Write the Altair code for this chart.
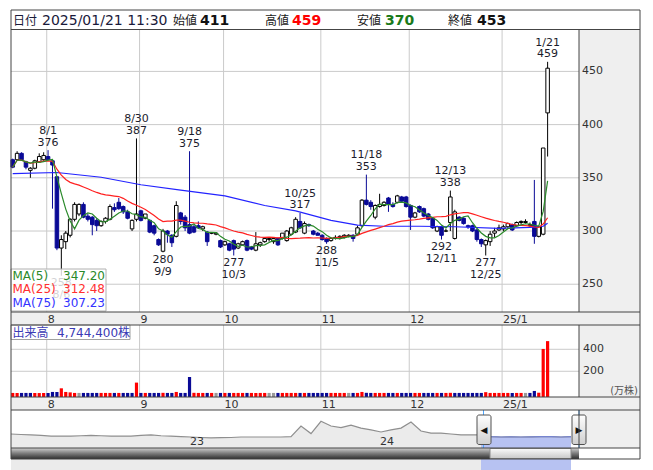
import altair as alt
import numpy as np
import pandas as pd

# ---- daily candles (yen) ----
dates = ["7/22", "7/23", "7/24", "7/25", "7/26", "7/29", "7/30", "7/31",
         "8/1", "8/2", "8/5", "8/6", "8/7", "8/8", "8/9", "8/13", "8/14", "8/15", "8/16", "8/19",
         "8/20", "8/21", "8/22", "8/23", "8/26", "8/27", "8/28", "8/29", "8/30",
         "9/2", "9/3", "9/4", "9/5", "9/6", "9/9", "9/10", "9/11", "9/12", "9/13", "9/17",
         "9/18", "9/19", "9/20", "9/24", "9/25", "9/26", "9/27", "9/30",
         "10/1", "10/2", "10/3", "10/4", "10/7", "10/8", "10/9", "10/10", "10/11", "10/15",
         "10/16", "10/17", "10/18", "10/21", "10/22", "10/23", "10/24", "10/25", "10/28",
         "10/29", "10/30", "10/31",
         "11/1", "11/5", "11/6", "11/7", "11/8", "11/11", "11/12", "11/13", "11/14", "11/15",
         "11/18", "11/19", "11/20", "11/21", "11/22", "11/25", "11/26", "11/27", "11/28", "11/29",
         "12/2", "12/3", "12/4", "12/5", "12/6", "12/9", "12/10", "12/11", "12/12", "12/13",
         "12/16", "12/17", "12/18", "12/19", "12/20", "12/23", "12/24", "12/25", "12/26",
         "12/27", "12/30",
         "1/6", "1/7", "1/8", "1/9", "1/10", "1/14", "1/15", "1/16", "1/17", "1/20", "1/21"]

opens = [367, 367, 373, 365, 357, 359, 365, 367,
         370, 366, 351, 284, 290, 296, 311, 316, 325, 314, 313, 310,
         305, 309, 311, 322, 327, 323, 318, 302, 311,
         319, 312, 310, 305, 292, 281, 300, 296, 295, 317, 313,
         306, 304, 305, 302, 299, 298, 297, 291,
         287, 288, 291, 284, 287, 291, 285, 282, 287, 290,
         292, 290, 293, 293, 291, 297, 299, 309, 298,
         306, 300, 298,
         296, 293, 291, 293, 294, 294, 295, 296, 297, 305,
         329, 327, 313, 323, 324, 331, 325, 327, 332, 332,
         324, 313, 323, 321, 316, 312, 300, 304, 300, 308,
         293, 313, 312, 305, 305, 301, 292, 287, 290,
         298, 301,
         302, 304, 306, 305, 308, 308, 305, 309, 295, 297, 411]
highs = [368, 375, 374, 366, 360, 367, 373, 374,
         376, 367, 351, 296, 300, 312, 327, 326, 327, 316, 314, 312,
         310, 313, 325, 326, 331, 324, 320, 311, 387,
         320, 316, 311, 306, 293, 302, 301, 297, 328, 318, 315,
         375, 306, 309, 305, 300, 299, 299, 292,
         291, 289, 292, 289, 291, 292, 286, 299, 290, 294,
         294, 294, 294, 298, 301, 304, 313, 317, 309,
         307, 301, 299,
         297, 294, 294, 296, 296, 297, 297, 297, 305, 330,
         353, 329, 325, 335, 328, 332, 327, 334, 333, 333,
         325, 318, 324, 322, 317, 313, 305, 305, 302, 338,
         320, 314, 313, 306, 306, 302, 293, 292, 300,
         303, 306,
         306, 308, 307, 309, 310, 311, 308, 348, 305, 378, 459]
lows = [359, 366, 366, 358, 350, 358, 364, 366,
        366, 321, 282, 258, 283, 294, 309, 314, 312, 309, 296, 300,
        304, 307, 310, 318, 320, 316, 311, 300, 309,
        309, 311, 298, 296, 286, 280, 289, 285, 294, 306, 300,
        297, 298, 302, 300, 286, 297, 296, 284,
        286, 281, 277, 283, 286, 281, 282, 281, 285, 289,
        290, 288, 286, 292, 290, 296, 298, 302, 297,
        304, 296, 296,
        291, 288, 290, 292, 292, 293, 294, 290, 296, 304,
        324, 320, 311, 322, 323, 318, 322, 326, 327, 322,
        301, 312, 317, 313, 310, 302, 299, 292, 299, 300,
        292, 309, 306, 302, 299, 290, 285, 277, 286,
        294, 300,
        300, 303, 300, 304, 306, 307, 304, 288, 294, 296, 370]
closes = [360, 373, 367, 360, 359, 366, 370, 371,
          367, 362, 284, 292, 298, 311, 325, 325, 313, 311, 306, 305,
          309, 312, 323, 320, 321, 318, 312, 310, 316,
          310, 316, 299, 298, 287, 300, 297, 289, 324, 309, 303,
          298, 299, 303, 304, 290, 298, 298, 285,
          290, 282, 283, 288, 290, 282, 283, 288, 289, 293,
          293, 293, 287, 298, 300, 303, 311, 303, 307,
          305, 297, 296,
          292, 290, 293, 294, 295, 296, 296, 293, 303, 329,
          325, 323, 324, 325, 327, 325, 323, 333, 328, 323,
          313, 317, 318, 314, 311, 303, 304, 296, 300, 332,
          318, 310, 307, 304, 300, 292, 288, 291, 297,
          300, 303,
          304, 307, 301, 308, 309, 309, 306, 295, 304, 378, 453]

# trading volume, in units of 10,000 shares
volumes = [3, 3, 3, 3, 3, 3, 2, 3,
           3, 12, 12, 45, 12, 8, 3, 3, 3, 3, 3, 3,
           3, 3, 3, 3, 3, 3, 3, 3, 97,
           3, 3, 3, 3, 3, 4, 3, 3, 12, 3, 3,
           148, 4, 3, 3, 3, 3, 3, 3,
           3, 3, 3, 3, 3, 3, 3, 3, 3, 3,
           3, 3, 3, 3, 3, 3, 3, 3, 3,
           3, 3, 3,
           3, 3, 3, 3, 3, 3, 3, 3, 3, 12,
           4, 3, 3, 3, 3, 3, 3, 3, 3, 3,
           3, 3, 3, 3, 3, 3, 3, 3, 3, 4,
           3, 3, 3, 3, 3, 3, 3, 10, 3,
           3, 3,
           3, 3, 3, 3, 3, 3, 3, 21, 5, 403, 474.44]

# 75-day moving average, read at a few sessions
ma75_idx = [0, 10, 20, 29, 38, 48, 57, 64, 72, 78, 84, 92, 100, 110, 117, 120, 121]
ma75_val = [354, 355, 350.5, 343.5, 338.5, 333, 324, 319, 310, 305.5, 304.5, 304.5,
            304, 302.5, 303.5, 304.5, 307.23]

# marked highs and lows (session indices)
peak_idx = [8, 28, 40, 65, 80, 99, 121]
trough_idx = [11, 34, 50, 71, 97, 107]

# month separators
month_first = ["8/1", "9/2", "10/1", "11/1", "12/2", "1/6"]
month_labels = ["8", "9", "10", "11", "12", "25/1"]

price_ticks = [250, 300, 350, 400, 450]
vol_ticks = [200, 400]

# long-range closing prices for the overview strip
nav_vals = [319, 316, 313, 310, 306, 306, 306, 308, 310, 308,
            306, 306, 306, 310, 313, 308, 306, 303, 300, 297,
            294, 296, 297, 300, 300, 300, 300, 300, 302, 370,
            322, 400, 370, 360, 376, 357, 345, 332, 345, 357,
            395, 338, 325, 325, 319, 313, 313, 313, 303, 300,
            301, 300, 301, 303, 302, 300, 303]
nav_years = ["23", "24"]

FONT = "DejaVu Sans"
JP = "Noto Sans CJK JP"
NAVY = "#0a0a96"

n = len(dates)
df = pd.DataFrame({"i": np.arange(n), "date": dates, "o": opens, "h": highs,
                   "l": lows, "c": closes, "v": volumes})
df["dir"] = np.where(df.c >= df.o, "up", "down")
df["lo"] = df[["o", "c"]].min(axis=1)
df["hi"] = df[["o", "c"]].max(axis=1)
df["x1"] = df.i - 0.4
df["x2"] = df.i + 0.4
df["vx1"] = df.i - 0.36
df["vx2"] = df.i + 0.36
prev = df.c.shift(1)
df["vdir"] = np.where(prev.isna() | (df.c > prev), "up",
                      np.where(df.c < prev, "down", "flat"))
df["ma5"] = df.c.rolling(5, min_periods=1).mean()
df["ma25"] = df.c.rolling(25, min_periods=1).mean()

ma75 = pd.DataFrame({"i": ma75_idx, "ma75": ma75_val})

pos = {d: k for k, d in enumerate(dates)}
grid = pd.DataFrame({"g": [pos[d] - 0.3 for d in month_first], "lab": month_labels})

peaks = df.loc[peak_idx, ["i", "h", "date"]].copy()
peaks["txt"] = peaks.h.astype(str)
troughs = df.loc[trough_idx, ["i", "l", "date"]].copy()
troughs["txt"] = troughs.l.astype(str)

pt = pd.DataFrame({"p": price_ticks, "lab": [str(p) for p in price_ticks]})
vt = pd.DataFrame({"v": vol_ticks, "lab": [str(v) for v in vol_ticks]})

nav = pd.DataFrame({"k": np.arange(len(nav_vals)), "p": nav_vals})
nav_sel = nav[nav.k >= 47]

XS = alt.Scale(domain=[-0.385, 128.1], range=[11, 579], nice=False, zero=False)
YP = alt.Scale(domain=[223.9, 488.9], range=[312, 30], nice=False, zero=False)
YV = alt.Scale(domain=[-34, 621], range=[397, 325], nice=False, zero=False)
XN = alt.Scale(domain=[0, 56.8], range=[11, 579], nice=False, zero=False)
YN = alt.Scale(domain=[230, 472], range=[448, 410], nice=False, zero=False)

one = pd.DataFrame({"k": [0]})


def px_rect(x1, y1, x2, y2, **kw):
    return alt.Chart(one).mark_rect(**kw).encode(
        x=alt.value(x1), x2=alt.value(x2), y=alt.value(y1), y2=alt.value(y2))


def px_line(x1, y1, x2, y2, color="#444", width=1):
    return alt.Chart(one).mark_rule(color=color, strokeWidth=width).encode(
        x=alt.value(x1), x2=alt.value(x2), y=alt.value(y1), y2=alt.value(y2))


def px_text(x, y, s, size=11, color="#333", font=FONT, weight="normal", align="left"):
    return alt.Chart(one).mark_text(
        text=s, fontSize=size, color=color, font=font, fontWeight=weight,
        align=align, baseline="alphabetic").encode(x=alt.value(x), y=alt.value(y))


def vgrad(c0, c1, mid=None):
    stops = [alt.GradientStop(color=c0, offset=0)]
    if mid is not None:
        stops.append(alt.GradientStop(color=mid, offset=0.5))
    stops.append(alt.GradientStop(color=c1, offset=1))
    return alt.LinearGradient(gradient="linear", stops=stops, x1=0, x2=0, y1=0, y2=1)


layers = []

# panel backgrounds
GRAY = "#efefef"
layers += [
    px_rect(579, 30, 640, 312, fill=GRAY),
    px_rect(579, 325, 640, 397, fill=GRAY),
    px_rect(579, 410, 640, 448, fill=GRAY),
    px_rect(11, 312, 640, 325, fill=GRAY),
    px_rect(11, 397, 640, 410, fill=GRAY),
]

# grid lines
GRID = "#cacaca"
layers.append(alt.Chart(pt).mark_rule(color=GRID, strokeWidth=1).encode(
    y=alt.Y("p:Q", scale=YP, axis=None), x=alt.value(11), x2=alt.value(579)))
layers.append(alt.Chart(vt).mark_rule(color=GRID, strokeWidth=1).encode(
    y=alt.Y("v:Q", scale=YV, axis=None), x=alt.value(11), x2=alt.value(579)))
for y1, y2 in [(30, 312), (325, 397)]:
    layers.append(alt.Chart(grid).mark_rule(color=GRID, strokeWidth=1).encode(
        x=alt.X("g:Q", scale=XS, axis=None), y=alt.value(y1), y2=alt.value(y2)))

# volume bars
layers.append(alt.Chart(df).mark_rect().encode(
    x=alt.X("vx1:Q", scale=XS, axis=None), x2="vx2:Q",
    y=alt.Y("v:Q", scale=YV, axis=None), y2=alt.value(397),
    fill=alt.Fill("vdir:N", scale=alt.Scale(domain=["up", "down", "flat"],
                                            range=["#ff0000", NAVY, "#999999"]), legend=None)))

# candles
layers.append(alt.Chart(df).mark_rule(strokeWidth=1).encode(
    x=alt.X("i:Q", scale=XS, axis=None),
    y=alt.Y("l:Q", scale=YP, axis=None), y2="h:Q",
    color=alt.Color("dir:N", scale=alt.Scale(domain=["up", "down"], range=["#000000", NAVY]),
                    legend=None)))
layers.append(alt.Chart(df).mark_rect(strokeWidth=1).encode(
    x=alt.X("x1:Q", scale=XS, axis=None), x2="x2:Q",
    y=alt.Y("lo:Q", scale=YP, axis=None), y2="hi:Q",
    fill=alt.Fill("dir:N", scale=alt.Scale(domain=["up", "down"], range=["#ffffff", NAVY]),
                  legend=None),
    stroke=alt.Stroke("dir:N", scale=alt.Scale(domain=["up", "down"], range=["#000000", NAVY]),
                      legend=None)))

# moving averages
layers.append(alt.Chart(ma75).mark_line(color="#2323ff", strokeWidth=1.2).encode(
    x=alt.X("i:Q", scale=XS, axis=None), y=alt.Y("ma75:Q", scale=YP, axis=None)))
layers.append(alt.Chart(df).mark_line(color="#ff2020", strokeWidth=1.2).encode(
    x=alt.X("i:Q", scale=XS, axis=None), y=alt.Y("ma25:Q", scale=YP, axis=None)))
layers.append(alt.Chart(df).mark_line(color="#2a8a2a", strokeWidth=1.2).encode(
    x=alt.X("i:Q", scale=XS, axis=None), y=alt.Y("ma5:Q", scale=YP, axis=None)))

# high / low annotations
LBL = "#1c1c2c"
for col, dy in [("txt", -4.5), ("date", -16.3)]:
    layers.append(alt.Chart(peaks).mark_text(
        fontSize=11, font=FONT, color=LBL, align="center", baseline="alphabetic", dy=dy).encode(
        x=alt.X("i:Q", scale=XS, axis=None), y=alt.Y("h:Q", scale=YP, axis=None),
        text=f"{col}:N"))
for col, dy in [("txt", 10.2), ("date", 22.2)]:
    layers.append(alt.Chart(troughs).mark_text(
        fontSize=11, font=FONT, color=LBL, align="center", baseline="alphabetic", dy=dy).encode(
        x=alt.X("i:Q", scale=XS, axis=None), y=alt.Y("l:Q", scale=YP, axis=None),
        text=f"{col}:N"))

# moving-average legend
ma5_last = df.ma5.iloc[-1]
ma25_last = df.ma25.iloc[-1]
ma75_last = ma75_val[-1]
layers.append(px_rect(11, 269, 106, 311, fill="#ffffff", fillOpacity=0.8,
                      stroke="#b0b0b0", strokeWidth=1))
for yb, name, val, colr in [(280, "MA(5)", ma5_last, "#2a8a2a"),
                            (293.3, "MA(25)", ma25_last, "#ff3030"),
                            (306.6, "MA(75)", ma75_last, "#3333ff")]:
    layers.append(px_text(12.5, yb, name, size=12, color=colr))
    layers.append(px_text(105, yb, f"{val:.2f}", size=12, color=colr, align="right"))

# volume caption
VOLC = "#3b3bb5"
layers.append(px_rect(11, 325, 130, 339.5, fill="#ffffff", fillOpacity=0.72,
                      stroke="#a0a0a0", strokeWidth=1))
layers.append(px_text(12.5, 336.5, "出来高", size=12, color=VOLC, font=JP))
layers.append(px_text(57, 336.5, f"{int(round(volumes[-1] * 10000)):,}株", size=12,
                      color=VOLC, font=f"{FONT}, {JP}"))

# right-hand axis labels
layers.append(alt.Chart(pt).mark_text(fontSize=11, font=FONT, color="#333", align="left",
                                      baseline="middle").encode(
    x=alt.value(582), y=alt.Y("p:Q", scale=YP, axis=None), text="lab:N"))
layers.append(alt.Chart(vt).mark_text(fontSize=11, font=FONT, color="#333", align="left",
                                      baseline="middle").encode(
    x=alt.value(583), y=alt.Y("v:Q", scale=YV, axis=None), text="lab:N"))
layers.append(px_text(638, 394, "(万株)", size=10, color="#555", font=f"{FONT}, {JP}",
                      align="right"))

# month labels in the date strips
for ym in [322.5, 407.5]:
    layers.append(alt.Chart(grid).mark_text(fontSize=11, font=FONT, color="#333", align="left",
                                            baseline="alphabetic", dx=1).encode(
        x=alt.X("g:Q", scale=XS, axis=None), y=alt.value(ym), text="lab:N"))

# overview strip
layers.append(alt.Chart(nav).mark_area(color="#ebebeb").encode(
    x=alt.X("k:Q", scale=XN, axis=None), y=alt.Y("p:Q", scale=YN, axis=None),
    y2=alt.value(448)))
layers.append(alt.Chart(nav_sel).mark_area(color="#b7c2f2").encode(
    x=alt.X("k:Q", scale=XN, axis=None), y=alt.Y("p:Q", scale=YN, axis=None),
    y2=alt.value(448)))
layers.append(alt.Chart(nav).mark_line(color="#8f8f8f", strokeWidth=1.2).encode(
    x=alt.X("k:Q", scale=XN, axis=None), y=alt.Y("p:Q", scale=YN, axis=None)))
layers.append(alt.Chart(nav_sel).mark_line(color="#7684d0", strokeWidth=1.2).encode(
    x=alt.X("k:Q", scale=XN, axis=None), y=alt.Y("p:Q", scale=YN, axis=None)))
layers.append(px_text(197, 445, nav_years[0], size=11, color="#333", align="center"))
layers.append(px_text(387, 445, nav_years[1], size=11, color="#333", align="center"))
layers.append(px_line(483.5, 410, 483.5, 448, color="#4da6ff"))
layers.append(px_line(579, 410, 579, 448, color="#4da6ff"))

# scrollbar
layers.append(px_rect(11, 448, 579, 459, fill=vgrad("#d0d0d0", "#2e2e2e", "#7a7a7a")))
layers.append(px_rect(490, 448.5, 571, 458.5, fill=vgrad("#fbfbfb", "#c8c8c8"),
                      stroke="#8a8a8a", strokeWidth=1))

# range handles
for hx1, hx2, glyph in [(477, 491, "◀"), (572, 586, "▶")]:
    layers.append(px_rect(hx1, 415, hx2, 444.5, fill=vgrad("#ffffff", "#cfcfcf"),
                          stroke="#505050", strokeWidth=1, cornerRadius=2))
    layers.append(px_text((hx1 + hx2) / 2, 433, glyph, size=9, color="#111", align="center"))

# frame lines
for y in [10, 29.5, 312, 325, 397, 410, 448, 459]:
    layers.append(px_line(11, y, 640, y))
layers.append(px_line(11, 10, 11, 459))
layers.append(px_line(640, 10, 640, 459))
for y1, y2 in [(29.5, 312), (325, 397), (410, 448)]:
    layers.append(px_line(579, y1, 579, y2))

# header bar
HB = 25
layers += [
    px_text(13, HB, "日付", size=12, color="#1a1a3a", font=JP),
    px_text(42, HB, "2025/01/21 11:30", size=14, color="#1a1a3a"),
    px_text(173, HB, "始値", size=12, color="#1a1a1a", font=JP),
    px_text(200, HB, str(opens[-1]), size=14, color="#111", weight="bold"),
    px_text(265, HB, "高値", size=12, color="#1a1a1a", font=JP),
    px_text(292, HB, str(highs[-1]), size=14, color="#ff0000", weight="bold"),
    px_text(357, HB, "安値", size=12, color="#1a1a1a", font=JP),
    px_text(385, HB, str(lows[-1]), size=14, color="#1a7a1a", weight="bold"),
    px_text(448, HB, "終値", size=12, color="#1a1a1a", font=JP),
    px_text(477, HB, str(closes[-1]), size=14, color="#111", weight="bold"),
]

chart = alt.layer(*layers).resolve_scale(
    x="independent", y="independent", color="independent", fill="independent",
    stroke="independent"
).properties(
    width=653, height=470, padding=0, autosize=alt.AutoSizeParams(type="none"),
    background="#ffffff"
).configure_view(stroke=None)

chart.save("out.html", embed_options={"renderer": "svg", "actions": False})
